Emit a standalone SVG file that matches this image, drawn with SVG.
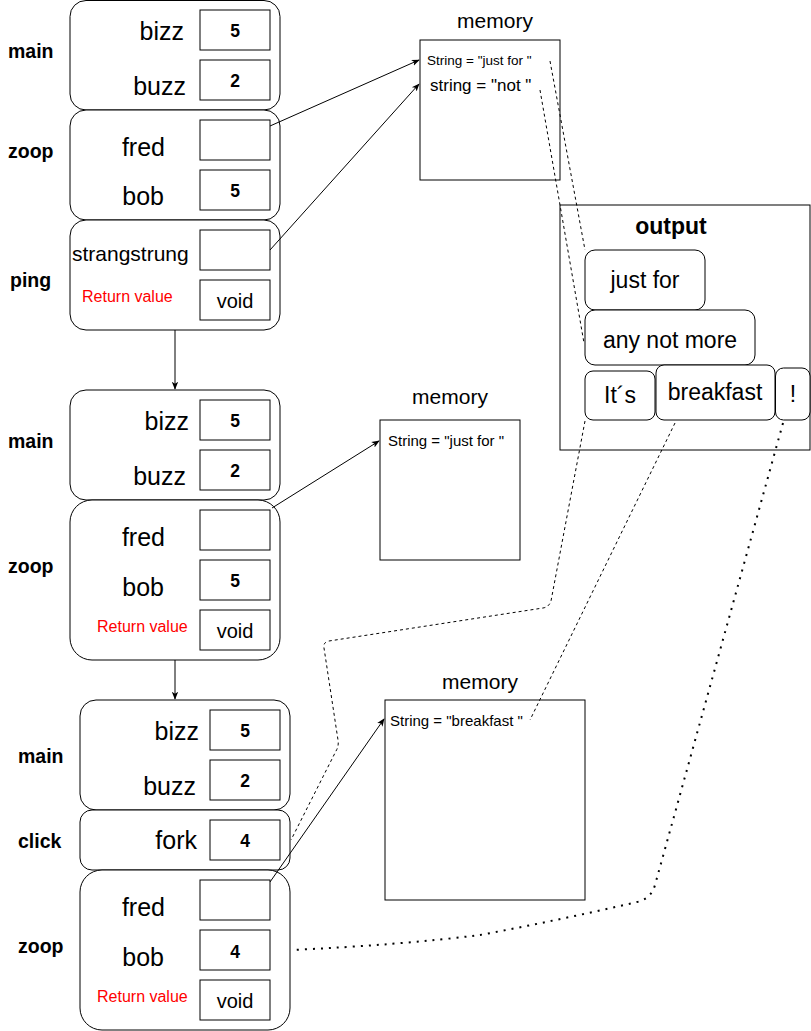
<svg xmlns="http://www.w3.org/2000/svg" width="811" height="1031" viewBox="0 0 811 1031">
<style>
text{font-family:"Liberation Sans",Arial,sans-serif;fill:#000}
.fr{fill:#fff;stroke:#000;stroke-width:1}
.bx{fill:#fff;stroke:#000;stroke-width:1}
.lbl{font-size:19.5px;font-weight:bold}
.var{font-size:25px;text-anchor:end}
.val{font-size:17.5px;font-weight:bold;text-anchor:middle}
.vd{font-size:20px;text-anchor:middle}
.ret{font-size:16px;fill:#ff0000}
.mt{font-size:21px;text-anchor:middle}
.ms{font-size:15px}
.ot{font-size:23px;text-anchor:middle}
.ln{fill:none;stroke:#000;stroke-width:1}
.dash{fill:none;stroke:#000;stroke-width:1;stroke-dasharray:3 3}
.dot{fill:none;stroke:#000;stroke-width:2;stroke-dasharray:2 6}
</style>
<defs>
<marker id="ah" viewBox="0 0 10 10" refX="9" refY="5" markerWidth="8" markerHeight="8" markerUnits="userSpaceOnUse" orient="auto">
<path d="M0,1 L10,5 L0,9 L2.5,5 Z" fill="#000"/>
</marker>
</defs>

<!-- Stack 1 -->
<g id="main1">
<rect class="fr" x="70" y="0.5" width="210" height="109.5" rx="16"/>
<text class="lbl" x="8" y="58">main</text>
<text class="var" x="184" y="40">bizz</text>
<rect class="bx" x="200" y="10" width="70" height="40"/>
<text class="val" x="235" y="37">5</text>
<text class="var" x="186" y="95">buzz</text>
<rect class="bx" x="200" y="60" width="70" height="40"/>
<text class="val" x="235" y="87">2</text>
</g>
<g id="zoop1">
<rect class="fr" x="70" y="110" width="210" height="110" rx="16"/>
<text class="lbl" x="8" y="158">zoop</text>
<text class="var" x="165" y="156">fred</text>
<rect class="bx" x="200" y="120" width="70" height="40"/>
<text class="var" x="164" y="205">bob</text>
<rect class="bx" x="200" y="170" width="70" height="40"/>
<text class="val" x="235" y="197">5</text>
</g>
<g id="ping1">
<rect class="fr" x="70" y="220" width="210" height="110" rx="16"/>
<text class="lbl" x="10" y="287">ping</text>
<text x="72" y="261" style="font-size:21px">strangstrung</text>
<rect class="bx" x="200" y="230" width="70" height="40"/>
<text class="ret" x="82" y="302">Return value</text>
<rect class="bx" x="200" y="280" width="70" height="40"/>
<text class="vd" x="235" y="308">void</text>
</g>
<g id="memory1">
<text class="mt" x="495" y="28">memory</text>
<rect class="bx" x="420" y="40" width="140" height="140"/>
<text x="427" y="65" style="font-size:13.5px">String = "just for "</text>
<text x="430" y="91" style="font-size:17px">string = "not "</text>
</g>

<!-- Output -->
<g id="output">
<rect class="bx" x="560" y="205" width="250" height="245"/>
<text x="671" y="234" style="font-size:23px;font-weight:bold;text-anchor:middle">output</text>
<rect class="bx" x="585" y="250" width="120" height="60" rx="10"/>
<text class="ot" x="645" y="288">just for</text>
<rect class="bx" x="585" y="310" width="170" height="55" rx="10"/>
<text class="ot" x="670" y="348">any not more</text>
<rect class="bx" x="585" y="371" width="70" height="49" rx="8"/>
<text class="ot" x="620" y="403">It´s</text>
<rect class="bx" x="656" y="365" width="119" height="55" rx="8"/>
<text class="ot" x="715" y="400">breakfast</text>
<rect class="bx" x="775.5" y="368" width="34.5" height="52" rx="8"/>
<text class="ot" x="793" y="402">!</text>
</g>

<!-- Stack 2 -->
<g id="main2">
<rect class="fr" x="70" y="390" width="210" height="110" rx="16"/>
<text class="lbl" x="8" y="448">main</text>
<text class="var" x="189" y="430">bizz</text>
<rect class="bx" x="200" y="400" width="70" height="40"/>
<text class="val" x="235" y="427">5</text>
<text class="var" x="186" y="485">buzz</text>
<rect class="bx" x="200" y="450" width="70" height="40"/>
<text class="val" x="235" y="477">2</text>
</g>
<g id="zoop2">
<rect class="fr" x="70" y="500" width="210" height="160" rx="22"/>
<text class="lbl" x="8" y="573">zoop</text>
<text class="var" x="165" y="546">fred</text>
<rect class="bx" x="200" y="510" width="70" height="40"/>
<text class="var" x="164" y="596">bob</text>
<rect class="bx" x="200" y="560" width="70" height="40"/>
<text class="val" x="235" y="587">5</text>
<text class="ret" x="97" y="632">Return value</text>
<rect class="bx" x="200" y="610" width="70" height="40"/>
<text class="vd" x="235" y="638">void</text>
</g>
<g id="memory2">
<text class="mt" x="450" y="404">memory</text>
<rect class="bx" x="380" y="420" width="140" height="140"/>
<text class="ms" x="388" y="446">String = "just for "</text>
</g>

<!-- Stack 3 -->
<g id="main3">
<rect class="fr" x="80" y="700" width="210" height="110" rx="16"/>
<text class="lbl" x="18" y="763">main</text>
<text class="var" x="199" y="740">bizz</text>
<rect class="bx" x="210" y="710" width="70" height="40"/>
<text class="val" x="245" y="737">5</text>
<text class="var" x="196" y="795">buzz</text>
<rect class="bx" x="210" y="760" width="70" height="40"/>
<text class="val" x="245" y="787">2</text>
</g>
<g id="click3">
<rect class="fr" x="80" y="810" width="210" height="60" rx="12"/>
<text class="lbl" x="18" y="848">click</text>
<text class="var" x="197" y="849">fork</text>
<rect class="bx" x="210" y="820" width="70" height="40"/>
<text class="val" x="245" y="847">4</text>
</g>
<g id="zoop3">
<rect class="fr" x="80" y="870" width="210" height="160" rx="22"/>
<text class="lbl" x="18" y="953">zoop</text>
<text class="var" x="165" y="916">fred</text>
<rect class="bx" x="200" y="880" width="70" height="40"/>
<text class="var" x="164" y="966">bob</text>
<rect class="bx" x="200" y="930" width="70" height="40"/>
<text class="val" x="235" y="958">4</text>
<text class="ret" x="97" y="1002">Return value</text>
<rect class="bx" x="200" y="980" width="70" height="40"/>
<text class="vd" x="235" y="1008">void</text>
</g>
<g id="memory3">
<text class="mt" x="480" y="689">memory</text>
<rect class="bx" x="385" y="700" width="200" height="200"/>
<text class="ms" x="390" y="726">String = "breakfast "</text>
</g>

<!-- Connectors -->
<g id="connectors">
<line class="ln" x1="270" y1="126" x2="419" y2="60" marker-end="url(#ah)"/>
<line class="ln" x1="270" y1="250" x2="419" y2="84" marker-end="url(#ah)"/>
<line class="ln" x1="175" y1="330" x2="175" y2="389" marker-end="url(#ah)"/>
<line class="ln" x1="272" y1="508" x2="379" y2="441" marker-end="url(#ah)"/>
<line class="ln" x1="175" y1="660" x2="175" y2="699" marker-end="url(#ah)"/>
<line class="ln" x1="270" y1="882" x2="384" y2="719" marker-end="url(#ah)"/>
<line class="dash" x1="550" y1="61" x2="585" y2="250"/>
<line class="dash" x1="540" y1="90" x2="584" y2="343"/>
<path class="dash" d="M585,421 L551,601 Q549,607 543,608 L329,641 Q323,642 324,648 L338,740 Q339,746 336,751 L291,840"/>
<line class="dash" x1="675" y1="423" x2="530" y2="720"/>
<path class="dot" d="M783,423 L655,885 Q651,899 637,902 Q560,920 480,935 Q400,945 291,950"/>
</g>
</svg>
